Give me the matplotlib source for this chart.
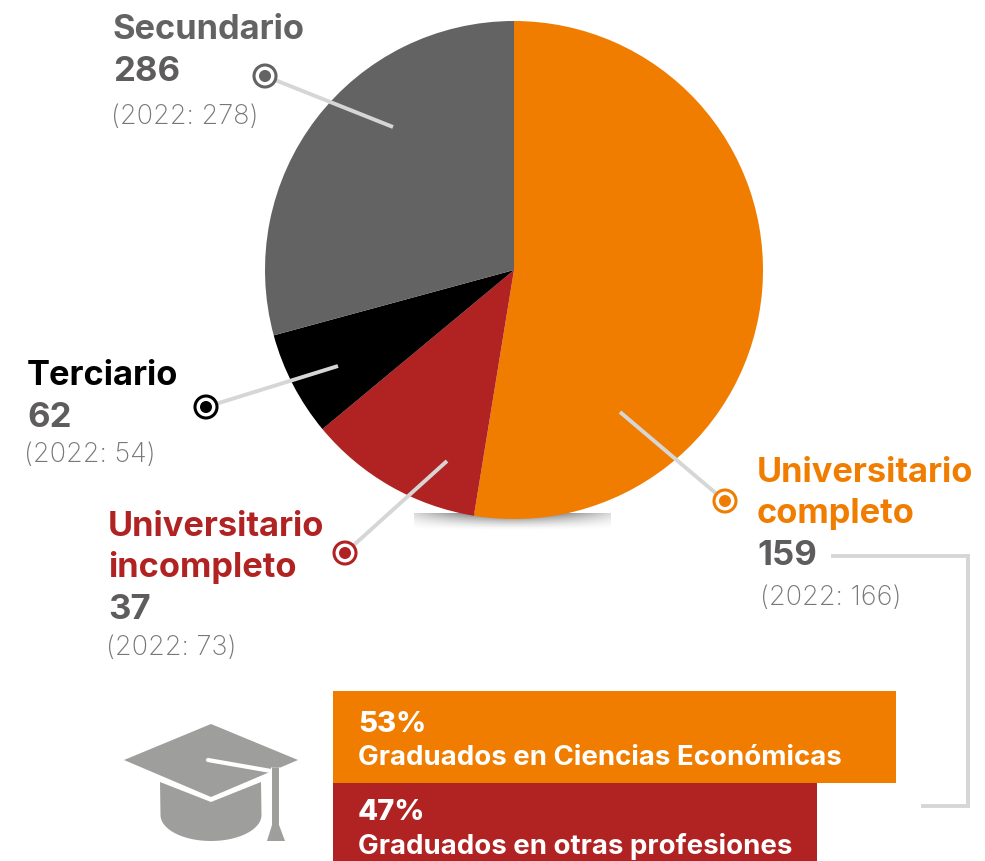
import numpy as np
import matplotlib
matplotlib.use('Agg')
import matplotlib.pyplot as plt
from matplotlib.patches import Polygon, Circle

plt.rcParams['font.family'] = ['Inter', 'DejaVu Sans']

# datos
pie_values = [286, 62, 37, 159]
pie_colors = ['#F07D00', '#B12222', '#000000', '#636363']
grad_values = [53, 47]
grad_colors = ['#F07D00', '#B12222']
grad_labels = ['Graduados en Ciencias Económicas', 'Graduados en otras profesiones']
names = ['Secundario', 'Terciario', 'Universitario\nincompleto', 'Universitario\ncompleto']
totals = ['286', '62', '37', '159']
prev = ['(2022: 278)', '(2022: 54)', '(2022: 73)', '(2022: 166)']

W, H = 985, 862
GREY = '#D6D6D6'
DARK = '#5E5C5D'


def set_limits():
    ax.set_xlim(0, W)
    ax.set_ylim(H - 1, -1)


fig = plt.figure(figsize=(W / 100, H / 100), dpi=100)
ax = fig.add_axes([0, 0, 1, 1])
set_limits()
ax.axis('off')

# sombra debajo de la torta
xx = np.linspace(-1, 1, 200)
yy = np.linspace(0, 1, 30)
gx, gy = np.meshgrid(xx, yy)
shade = (1 - 0.75 * np.abs(gx) ** 1.5) * (1 - gy) ** 1.6
rgba = np.zeros(shade.shape + (4,))
rgba[..., 3] = shade * 0.6
ax.imshow(rgba, extent=(414, 611, 531, 513), aspect='auto', zorder=1, interpolation='bilinear')

# torta
ax.pie(pie_values, colors=pie_colors, center=(514, 270), radius=249, startangle=-90,
       counterclock=True, wedgeprops={'zorder': 2, 'linewidth': 0}, frame=True)
ax.set_aspect('auto')
set_limits()
ax.axis('off')


# lineas con el marcador circular
def leader(x0, y0, x1, y1, color):
    ax.plot([x0, x1], [y0, y1], color=GREY, lw=2.8, solid_capstyle='butt', zorder=3)
    ax.add_patch(Circle((x1, y1), 11, facecolor='white', edgecolor=color, lw=2.2, zorder=4))
    ax.add_patch(Circle((x1, y1), 6, facecolor=color, edgecolor='none', zorder=5))


leader(393, 127, 265, 76, '#636363')
leader(338, 366, 206, 407, '#000000')
leader(447, 461, 345, 553, '#B12222')
leader(620, 412, 725, 501, '#F07D00')

ax.plot([833, 968, 968, 923], [556, 556, 806, 806], color=GREY, lw=2.8,
        solid_joinstyle='miter', zorder=3)


# textos
def label(x, y, name, total, old, color, x_old, y_total, y_old):
    lines = name.split('\n')
    for i, line in enumerate(lines):
        ax.text(x, y + i * 41, line, color=color, fontsize=24.8, fontweight='bold', va='baseline')
    ax.text(x, y_total, total, color=DARK, fontsize=25, fontweight='bold', va='baseline')
    ax.text(x_old, y_old, old, color='#77767A', fontsize=19.5, fontweight='light', va='baseline')


label(113, 38, names[0], totals[0], prev[0], '#636363', 111, 80, 123)
label(27, 384, names[1], totals[1], prev[1], '#000000', 24, 426, 461)
label(108, 535, names[2], totals[2], prev[2], '#B12222', 106, 618, 654)
label(757, 481, names[3], totals[3], prev[3], '#F07D00', 760, 564, 604)

# barras de graduados
bx = fig.add_axes([333 / W, 1 - 876 / H, (896 - 333) / W, 184 / H])
bx.barh([0, 1], grad_values, height=1, color=grad_colors, linewidth=0)
bx.set_xlim(10.25, 53)
bx.set_ylim(1.5, -0.5)
bx.axis('off')

ax.set_zorder(0)
bx.set_zorder(1)
for i in range(2):
    y0 = 732 + i * 88
    bx.text(358, H - y0, f'{grad_values[i]}%', transform=None, color='white', fontsize=21,
            fontweight='heavy', va='baseline', clip_on=False)
    bx.text(358, H - (y0 + 33 + i), grad_labels[i], transform=None, color='white', fontsize=19.9,
            fontweight='bold', va='baseline', clip_on=False)

# birrete
CAP = '#9E9E9D'
t = np.linspace(0, np.pi, 40)
arc = [(211 + 50.5 * np.cos(a), 815 + 26 * np.sin(a)) for a in t]
body = [(261, 782)] + arc + [(160, 782), (211, 802)]
ax.add_patch(Polygon(body, closed=True, facecolor=CAP, edgecolor='none', zorder=3))
ax.add_patch(Polygon([(124, 760), (211, 724), (298, 760), (211, 797)], closed=True,
                     facecolor=CAP, edgecolor='none', zorder=4))
ax.plot([208, 271], [760, 771], color='white', lw=3, zorder=5, solid_capstyle='round')
ax.plot([275, 275], [767, 826], color='white', lw=6.5, zorder=5, solid_capstyle='butt')
ax.plot([275, 275], [767, 826], color=CAP, lw=5, zorder=6, solid_capstyle='butt')
ax.add_patch(Polygon([(267, 841), (272, 825), (279, 825), (285, 841)], closed=True,
                     facecolor=CAP, edgecolor='none', zorder=6))

fig.savefig('out.png', dpi=100)
